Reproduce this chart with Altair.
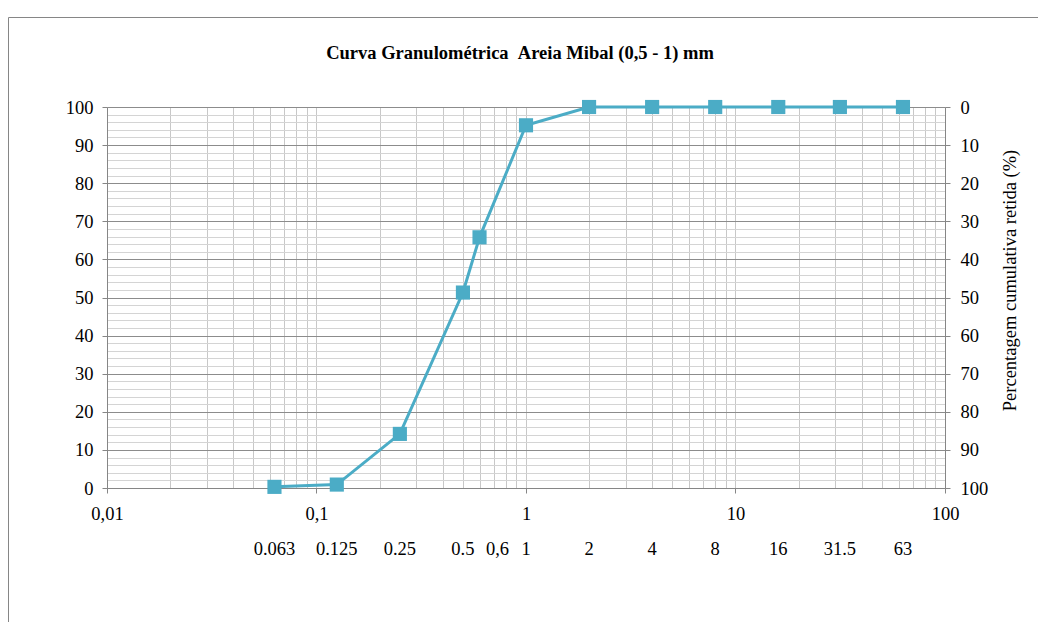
import altair as alt
import pandas as pd

# --- data ---
sizes = [0.063, 0.125, 0.25, 0.5, 0.6, 1, 2, 4, 8, 16, 31.5, 63]
passing = [0.3, 0.9, 14.2, 51.3, 65.8, 95.2, 100, 100, 100, 100, 100, 100]
size_labels = ["0.063", "0.125", "0.25", "0.5", "0,6", "1", "2", "4", "8", "16", "31.5", "63"]
decades = [0.01, 0.1, 1, 10, 100]
decade_labels = ["0,01", "0,1", "1", "10", "100"]
left_ticks = list(range(0, 101, 2))
right_ticks = list(range(0, 101, 10))

title_text = "Curva Granulométrica \u00a0Areia Mibal (0,5 - 1) mm"
right_title = "Percentagem cumulativa retida (%)"

df = pd.DataFrame({"size": sizes, "passing": passing, "label": size_labels})

FONT = "Liberation Serif"
FS = 18.5
COLOR = "#4BACC6"
AXIS_GRAY = "#868686"

grid_x = sorted(set([round(k * 10.0 ** e, 6) for e in range(-2, 2) for k in range(1, 10)] + [100]))
decade_test = " || ".join(f"datum.value == {d}" for d in decades)
label_expr_x = " : ".join(f"datum.value == {d} ? '{l}'" for d, l in zip(decades, decade_labels)) + " : ''"

x_enc = alt.X(
    "size:Q",
    scale=alt.Scale(type="log", domain=[0.01, 100], nice=False),
    axis=alt.Axis(
        values=grid_x,
        labelExpr=label_expr_x,
        title=None,
        grid=True,
        gridColor="#c8c8c8",
        gridWidth=1,
        tickSize=5,
        tickColor=AXIS_GRAY,
        tickOpacity={"condition": {"test": decade_test, "value": 1}, "value": 0},
        labelPadding=11,
        labelFlush=False,
        labelOverlap=False,
        labelFont=FONT,
        labelFontSize=FS,
        labelColor="black",
        domainColor=AXIS_GRAY,
    ),
)

y_left = alt.Y(
    "passing:Q",
    scale=alt.Scale(domain=[0, 100], nice=False),
    axis=alt.Axis(
        values=left_ticks,
        labelExpr="datum.value % 10 == 0 ? datum.label : ''",
        title=None,
        grid=True,
        gridColor={"condition": {"test": "datum.value % 10 == 0", "value": "#8c8c8c"}, "value": "#d4d4d4"},
        tickSize=5,
        tickColor=AXIS_GRAY,
        tickOpacity={"condition": {"test": "datum.value % 10 == 0", "value": 1}, "value": 0},
        labelPadding=9,
        labelOverlap=False,
        labelFont=FONT,
        labelFontSize=FS,
        labelColor="black",
        domainColor=AXIS_GRAY,
    ),
)

base = alt.Chart(df)

line = base.mark_line(color=COLOR, strokeWidth=3).encode(x=x_enc, y=y_left)
points = base.mark_point(shape="square", filled=True, size=200, color=COLOR, opacity=1).encode(x=x_enc, y=y_left)
left_layer = alt.layer(line, points)

right_layer = base.transform_calculate(retida="100 - datum.passing").mark_point(opacity=0).encode(
    x=x_enc,
    y=alt.Y(
        "retida:Q",
        scale=alt.Scale(domain=[0, 100], reverse=True, nice=False),
        axis=alt.Axis(
            orient="right",
            values=right_ticks,
            grid=False,
            title=right_title,
            titleAngle=270,
            titleFont=FONT,
            titleFontSize=FS,
            titleFontWeight="normal",
            titleColor="black",
            titlePadding=32,
            titleY=173,
            tickSize=5,
            tickColor=AXIS_GRAY,
            labelPadding=10,
            labelFont=FONT,
            labelFontSize=FS,
            labelColor="black",
            labelOverlap=False,
            domainColor=AXIS_GRAY,
        ),
    ),
)

size_text = base.transform_filter("datum.label != '0,6'").mark_text(
    font=FONT, fontSize=FS, baseline="middle", color="black"
).encode(x=x_enc, y=alt.value(442), text="label:N")

size_text_06 = base.transform_filter("datum.label == '0,6'").mark_text(
    font=FONT, fontSize=FS, baseline="middle", color="black", dx=18
).encode(x=x_enc, y=alt.value(442), text="label:N")

frame = alt.Chart(pd.DataFrame({"f": [0]})).mark_rect(
    fillOpacity=0, stroke=AXIS_GRAY, strokeWidth=1
).encode(x=alt.value(-98.5), y=alt.value(-89.5), x2=alt.value(3000), y2=alt.value(3000))

chart = alt.layer(frame, left_layer, right_layer, size_text, size_text_06).resolve_scale(
    y="independent"
).properties(
    width=838,
    height=381,
    title=alt.TitleParams(
        title_text,
        anchor="middle",
        frame="group",
        font=FONT,
        fontSize=18.5,
        fontWeight="bold",
        color="black",
        offset=-45,
        dx=-6,
    ),
    autosize=alt.AutoSizeParams(type="none"),
    padding={"left": 99, "top": 99, "right": 93, "bottom": 134},
).configure_view(stroke=None)

chart.save("out.html", embed_options={"renderer": "svg", "actions": False})
